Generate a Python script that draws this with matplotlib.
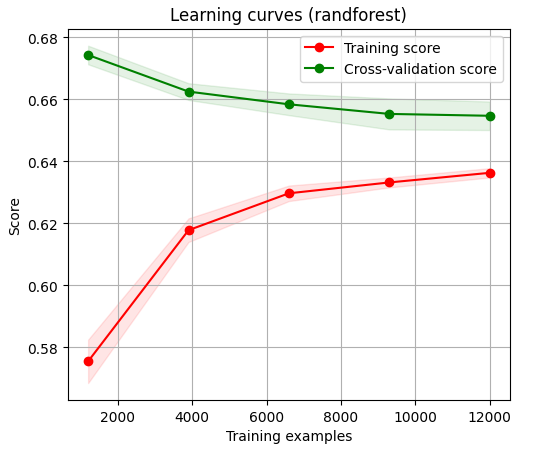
import numpy as np
import matplotlib
matplotlib.use('Agg')
import matplotlib.pyplot as plt

# Data
train_sizes = [1200, 3900, 6600, 9300, 12000]
train_mean = [0.5754, 0.6177, 0.6296, 0.6331, 0.6362]
train_std = [0.0070, 0.0038, 0.0025, 0.0016, 0.0015]
cv_mean = [0.6742, 0.6624, 0.6583, 0.6552, 0.6546]
cv_std = [0.0030, 0.0027, 0.0035, 0.0050, 0.0046]

train_mean = np.array(train_mean)
train_std = np.array(train_std)
cv_mean = np.array(cv_mean)
cv_std = np.array(cv_std)

fig, ax = plt.subplots(figsize=(5.4, 4.52), dpi=100)
fig.subplots_adjust(left=0.126, right=0.944, top=0.934, bottom=0.113)

ax.set_title("Learning curves (randforest)")
ax.set_xlabel("Training examples")
ax.set_ylabel("Score")
ax.grid()

ax.fill_between(train_sizes, train_mean - train_std, train_mean + train_std,
                alpha=0.1, color="r")
ax.fill_between(train_sizes, cv_mean - cv_std, cv_mean + cv_std,
                alpha=0.1, color="g")
ax.plot(train_sizes, train_mean, 'o-', color="r", label="Training score")
ax.plot(train_sizes, cv_mean, 'o-', color="g", label="Cross-validation score")
ax.legend(loc="best")

fig.savefig('out.png', dpi=100)
